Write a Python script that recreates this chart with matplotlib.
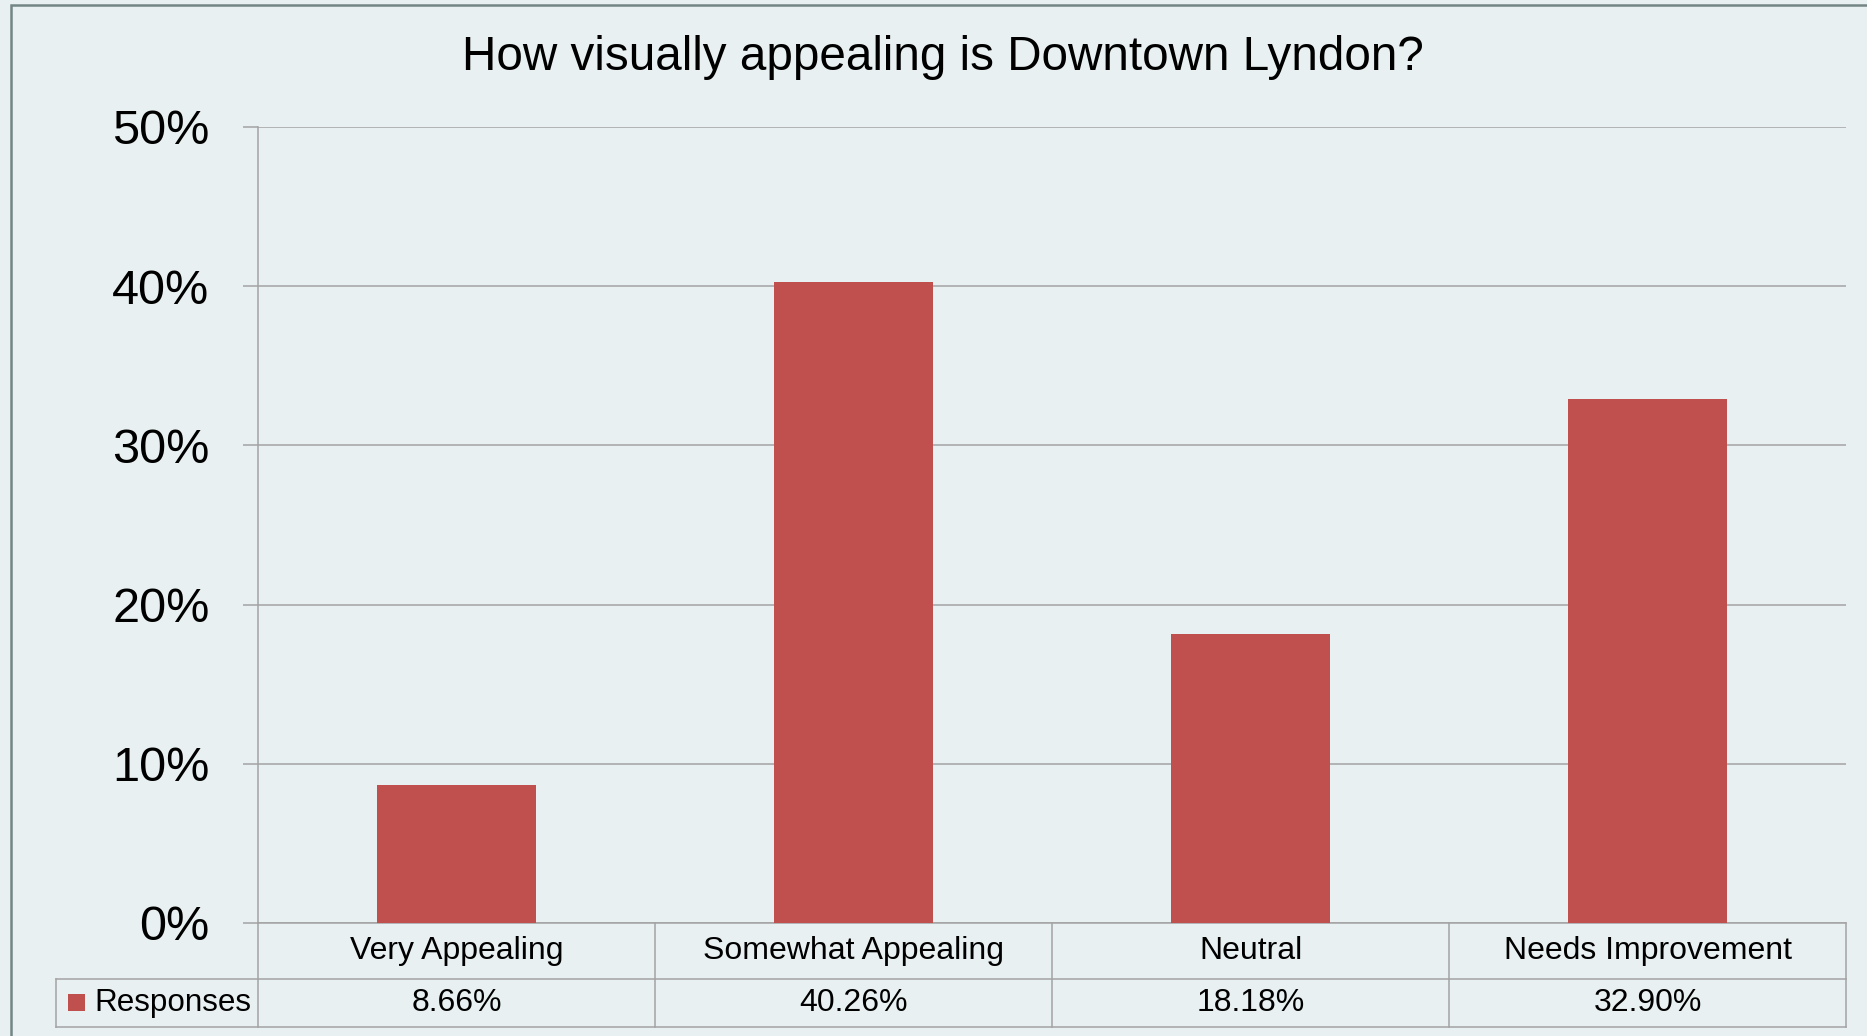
import matplotlib
matplotlib.use("Agg")
from matplotlib import pyplot as plt
from matplotlib.patches import Rectangle
import matplotlib.transforms as mtransforms

plt.rcParams['font.family'] = ['Liberation Sans', 'DejaVu Sans']

categories = ["Very Appealing", "Somewhat Appealing", "Neutral", "Needs Improvement"]
responses = [8.66, 40.26, 18.18, 32.90]
series_name = "Responses"
yticks = [0, 10, 20, 30, 40, 50]

bg = "#E8F0F1"
bar_color = "#C0504D"
grid_color = "#A3A3A3"

W, H = 1867, 1036
fig = plt.figure(figsize=(W / 100, H / 100), dpi=100, facecolor=bg)

# outer chart frame (top and left visible)
fig.patches.append(Rectangle((11 / W, -0.05), 1.2, 1 - 5 / H + 0.05, transform=fig.transFigure,
                             fill=False, edgecolor="#748585", linewidth=1.8))

# plot area in pixels: left 258, right 1846, top 127, bottom 923
ax = fig.add_axes([258 / W, 1 - 923 / H, (1846 - 258) / W, (923 - 127) / H])
ax.set_facecolor(bg)

x = list(range(len(categories)))
ax.bar(x, responses, width=0.4, color=bar_color, zorder=3)

ax.set_xlim(-0.5, len(categories) - 0.5)
ax.set_ylim(0, 50)
ax.set_yticks(yticks)
ax.set_yticklabels([f"{v}%" for v in yticks], fontsize=35)
ax.set_xticks([])
ax.grid(axis="y", color=grid_color, linewidth=1.1, zorder=0)
ax.tick_params(axis="y", length=11, width=1.1, color=grid_color, pad=24)
for s in ["top", "right"]:
    ax.spines[s].set_visible(False)
for s in ["left", "bottom"]:
    ax.spines[s].set_color(grid_color)
    ax.spines[s].set_linewidth(1.1)

fig.suptitle("How visually appealing is Downtown Lyndon?", x=943 / W, y=1 - 57 / H,
             va="center", fontsize=34.3)

# data table below the plot
trans = mtransforms.blended_transform_factory(ax.transData, ax.transAxes)
plot_h = 923 - 127
row1 = -(979 - 923) / plot_h
row2 = -(1027 - 923) / plot_h
left_x = -0.5 - (258 - 56) / ((1846 - 258) / len(categories))
right_x = len(categories) - 0.5
lkw = dict(color=grid_color, linewidth=1.1, transform=trans, clip_on=False)

for i in range(len(categories) + 1):
    ax.plot([i - 0.5, i - 0.5], [0, row2], **lkw)
ax.plot([left_x, right_x], [row1, row1], **lkw)
ax.plot([left_x, right_x], [row2, row2], **lkw)
ax.plot([left_x, left_x], [row1, row2], **lkw)

for i, (c, v) in enumerate(zip(categories, responses)):
    ax.text(i, row1 / 2, c, ha="center", va="center", fontsize=23, transform=trans)
    ax.text(i, (row1 + row2) / 2, f"{v:.2f}%", ha="center", va="center", fontsize=23,
            transform=trans)

ax.text(-0.5 - (258 - 94) / 397, (row1 + row2) / 2, series_name, ha="left", va="center",
        fontsize=22.6, transform=trans)
fig.patches.append(Rectangle((68 / W, 1 - 1011 / H), 17 / W, 17 / H, transform=fig.transFigure,
                             facecolor=bar_color, edgecolor="none"))

fig.savefig("out.png", dpi=100, facecolor=bg)
